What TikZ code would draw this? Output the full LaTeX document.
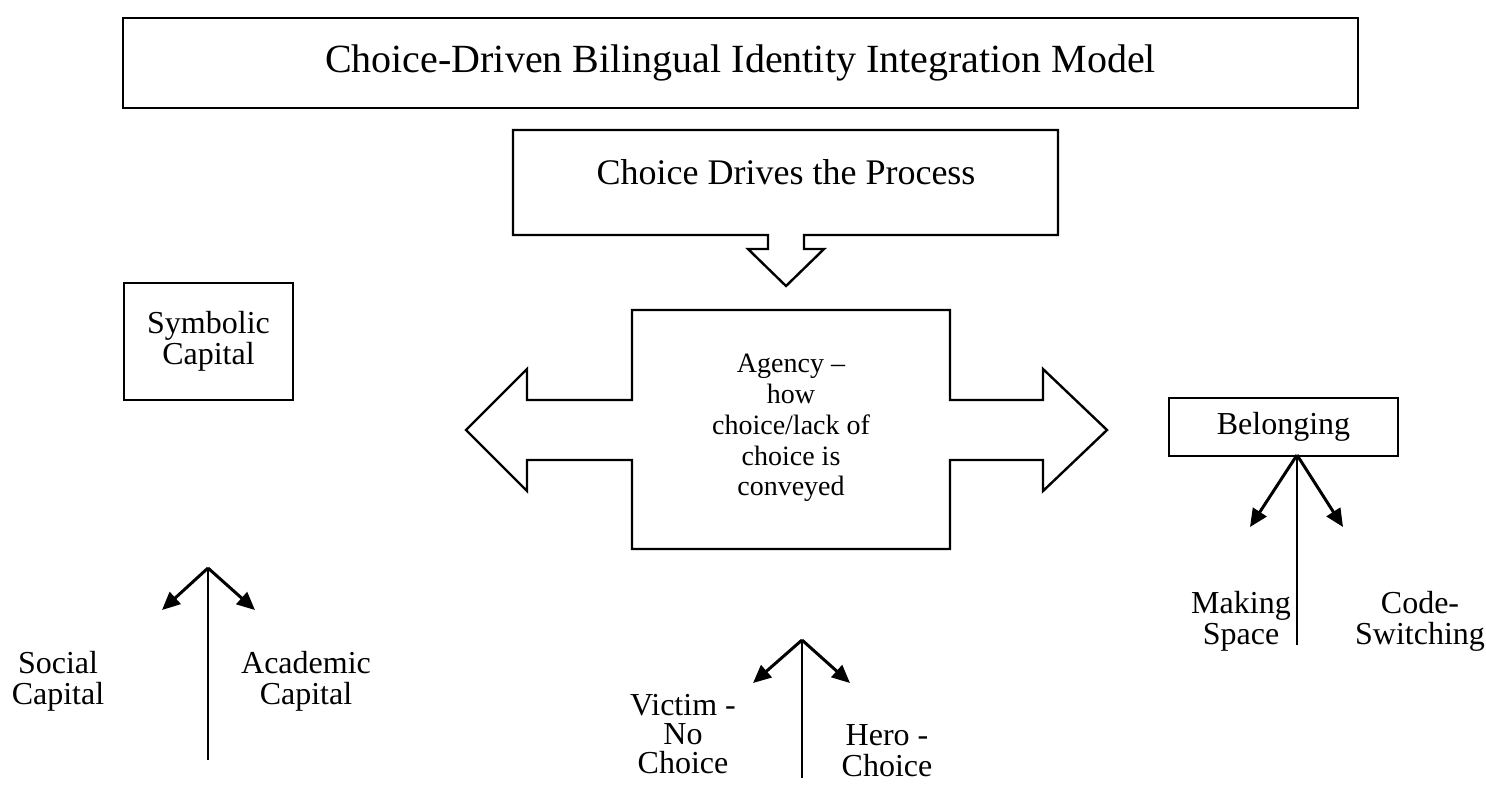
\documentclass[tikz,border=0pt]{standalone}
\usepackage{fontspec}
\setmainfont{Liberation Serif}
\usetikzlibrary{arrows.meta,positioning}

\tikzset{
  every node/.style={font=\fontsize{16}{15.5}\selectfont},
  box/.style={draw=black, line width=1.2pt, inner sep=0pt, align=center},
  lbl/.style={inner sep=0pt, align=center},
  callout/.style={draw=black, line width=1.2pt, line join=miter},
  branch/.style={black, line width=1.5pt, -{Triangle[length=9pt,width=8pt]}},
  stem/.style={black, line width=0.6pt}
}

\begin{document}
\begin{tikzpicture}[x=0.5pt, y=-0.5pt]
  \useasboundingbox (0,0) rectangle (1486,784);

  % title
  \node [box, minimum width=617.5pt, minimum height=45pt,
    font=\fontsize{20}{22}\selectfont] (title) at (740.5,63)
    {Choice-Driven Bilingual Identity Integration Model};

  % down arrow callout
  \draw [callout] (513,130) -- (1058,130) -- (1058,235) -- (804,235) -- (804,249)
    -- (824,249) -- (786,286) -- (748,249) -- (768,249) -- (768,235) -- (513,235) -- cycle;
  \node [lbl, font=\fontsize{18}{20}\selectfont] (choice) at (786,172)
    {Choice Drives the Process};

  % left-right arrow callout
  \draw [callout] (632,310) -- (950,310) -- (950,400) -- (1043,400) -- (1043,369)
    -- (1107,430) -- (1043,491) -- (1043,460) -- (950,460) -- (950,549) -- (632,549)
    -- (632,460) -- (527,460) -- (527,491) -- (466,430) -- (527,369) -- (527,400)
    -- (632,400) -- cycle;
  \node [lbl, font=\fontsize{14}{15.4}\selectfont] (agency) at (791,428)
    {Agency --\\how\\choice/lack of\\choice is\\conveyed};

  % side boxes
  \node [box, minimum width=84.5pt, minimum height=58.5pt] (symbolic) at (208.5,341.5)
    {Symbolic\\Capital};
  \node [box, minimum width=114.5pt, minimum height=29pt] (belonging) at (1283.5,427)
    {Belonging};

  % forks
  \coordinate (symtop) at (208,568);
  \coordinate (symbot) at (208,760);
  \coordinate (symleft) at (162,610);
  \coordinate (symright) at (255,610);
  \draw [stem] (symtop) -- (symbot);
  \draw [branch] (symtop) -- (symleft);
  \draw [branch] (symtop) -- (symright);

  \coordinate (agtop) at (802,640);
  \coordinate (agbot) at (802,778);
  \coordinate (agleft) at (753,683);
  \coordinate (agright) at (850,683);
  \draw [stem] (agtop) -- (agbot);
  \draw [branch] (agtop) -- (agleft);
  \draw [branch] (agtop) -- (agright);

  \coordinate (beltop) at (1297,455);
  \coordinate (belbot) at (1297,645);
  \coordinate (belleft) at (1250,527);
  \coordinate (belright) at (1343,527);
  \draw [stem] (beltop) -- (belbot);
  \draw [branch] (beltop) -- (belleft);
  \draw [branch] (beltop) -- (belright);

  % fork labels
  \node [lbl] (social) at (58,681) {Social\\Capital};
  \node [lbl] (academic) at (306,681) {Academic\\Capital};
  \node [lbl, anchor=south, font=\fontsize{16}{14.5}\selectfont] (victim) at (683,774)
    {Victim -\\No\\Choice};
  \node [lbl] (hero) at (887,751) {Hero -\\Choice};
  \node [lbl] (making) at (1241,621) {Making\\Space};
  \node [lbl] (codesw) at (1420,621) {Code-\\Switching};
\end{tikzpicture}
\end{document}
